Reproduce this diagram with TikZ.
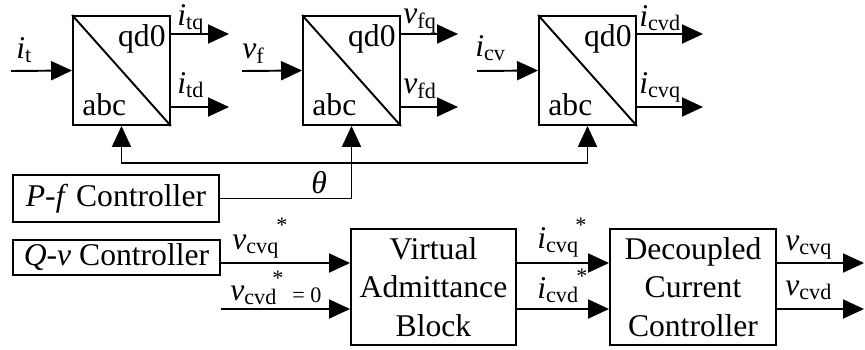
\documentclass[tikz,border=0pt]{standalone}
\usepackage{fontspec}
\setmainfont{Liberation Serif}
\usetikzlibrary{arrows.meta, positioning}

% variable with upright subscript
\newcommand{\varsub}[2]{\textit{#1}\textsubscript{#2}}

\tikzset{
  blk/.style={draw, line width=1.1pt, inner sep=0pt, align=center},
  xfm/.style={blk, minimum width=1.94cm, minimum height=2.18cm},
  sig/.style={line width=1.1pt, -{Triangle[length=0.42cm, width=0.38cm]}},
  lbl/.style={anchor=base west, inner sep=0pt},
  refmark/.style={anchor=base, inner sep=0pt, font=\fontsize{12.6}{14}\selectfont}
}

\begin{document}
\begin{tikzpicture}[x=0.02cm, y=-0.02cm, font=\fontsize{18}{22}\selectfont]
    \useasboundingbox (0,0) rectangle (865,349);

    % Transformation blocks abc -> qd0
    \foreach \n/\x in {T1/121.5, T2/351.5, T3/587.5} {
        \node[xfm] (\n) at (\x,70.5) {};
        \draw[line width=1.1pt] (\n.north west) -- (\n.south east);
        \node[anchor=base east, inner sep=0pt] at ([shift={(-0.1cm,-0.62cm)}]\n.north east) {qd0};
        \node[anchor=base west, inner sep=0pt] at ([shift={(0.2cm,0.2cm)}]\n.south west) {abc};
    }

    % Controller and reference blocks
    \node[blk, minimum width=4.12cm, minimum height=0.94cm] (PF) at (116,198.5) {\textit{P}-\textit{f} Controller};
    \node[blk, minimum width=4.14cm, minimum height=0.7cm] (QV) at (116.5,257.5) {\textit{Q}-\textit{v} Controller};
    \node[blk, minimum width=3.3cm, minimum height=2.32cm] (VAB) at (433.5,287) {Virtual\\Admittance\\Block};
    \node[blk, minimum width=3.32cm, minimum height=2.32cm] (DCC) at (693,287) {Decoupled\\Current\\Controller};

    % Signal ends
    \coordinate (it) at (11,71);
    \coordinate (vf) at (242,71);
    \coordinate (icv) at (477,71);
    \coordinate (tq) at (229,34);
    \coordinate (td) at (229,107);
    \coordinate (fq) at (458,34);
    \coordinate (fd) at (458,107);
    \coordinate (cd) at (703,34);
    \coordinate (cq) at (703,107);
    \coordinate (fb) at (352,163);
    \coordinate (vq) at (0,263);
    \coordinate (vd) at (0,309);
    \coordinate (oq) at (864,263);
    \coordinate (od) at (864,309);

    % Inputs and outputs of the transformations
    \draw[sig] (it) -- (T1.west);
    \draw[sig] (vf) -- (T2.west);
    \draw[sig] (icv) -- (T3.west);
    \draw[sig] (T1.east |- tq) -- (tq);
    \draw[sig] (T1.east |- td) -- (td);
    \draw[sig] (T2.east |- fq) -- (fq);
    \draw[sig] (T2.east |- fd) -- (fd);
    \draw[sig] (T3.east |- cd) -- (cd);
    \draw[sig] (T3.east |- cq) -- (cq);

    % Angle theta fed to all three blocks
    \draw[sig] (PF.east) -| (T2.south);
    \draw[sig] (fb) -| (T1.south);
    \draw[sig] (fb) -| (T3.south);

    % Lower signal chain
    \draw[sig] (QV.east |- vq) -- (VAB.west |- vq);
    \draw[sig] (QV.east |- vd) -- (VAB.west |- vd);
    \draw[sig] (VAB.east |- vq) -- (DCC.west |- vq);
    \draw[sig] (VAB.east |- vd) -- (DCC.west |- vd);
    \draw[sig] (DCC.east |- vq) -- (oq);
    \draw[sig] (DCC.east |- vd) -- (od);

    % Labels
    \node[lbl] (l_it) at (16,58) {\varsub{i}{t}};
    \node[lbl] (l_vf) at (242,58) {\varsub{v}{f}};
    \node[lbl] (l_icv) at (475,56) {\varsub{i}{cv}};
    \node[lbl] (l_itq) at (177,25) {\varsub{i}{tq}};
    \node[lbl] (l_itd) at (177,93) {\varsub{i}{td}};
    \node[lbl] (l_vfq) at (403,23) {\varsub{v}{fq}};
    \node[lbl] (l_vfd) at (403,93) {\varsub{v}{fd}};
    \node[lbl] (l_icd) at (639,26) {\varsub{i}{cvd}};
    \node[lbl] (l_icq) at (639,93) {\varsub{i}{cvq}};
    \node[lbl] (l_th) at (311,193) {\textit{θ}};
    \node[lbl] (l_vcq) at (232,249) {\varsub{v}{cvq}};
    \node[lbl] (l_vcd) at (230,300) {\varsub{v}{cvd}};
    \node[lbl, font=\fontsize{12.6}{14}\selectfont] (l_zero) at (292,302) {= 0};
    \node[lbl] (l_icqr) at (537,248) {\varsub{i}{cvq}};
    \node[lbl] (l_icdr) at (537,298) {\varsub{i}{cvd}};
    \node[lbl] (l_ovq) at (785,250) {\varsub{v}{cvq}};
    \node[lbl] (l_ovd) at (785,295) {\varsub{v}{cvd}};

    % Reference marks
    \node[refmark] (s_vq) at (282,232) {*};
    \node[refmark] (s_vd) at (278,285) {*};
    \node[refmark] (s_iq) at (581,232) {*};
    \node[refmark] (s_id) at (582,283) {*};
\end{tikzpicture}
\end{document}
